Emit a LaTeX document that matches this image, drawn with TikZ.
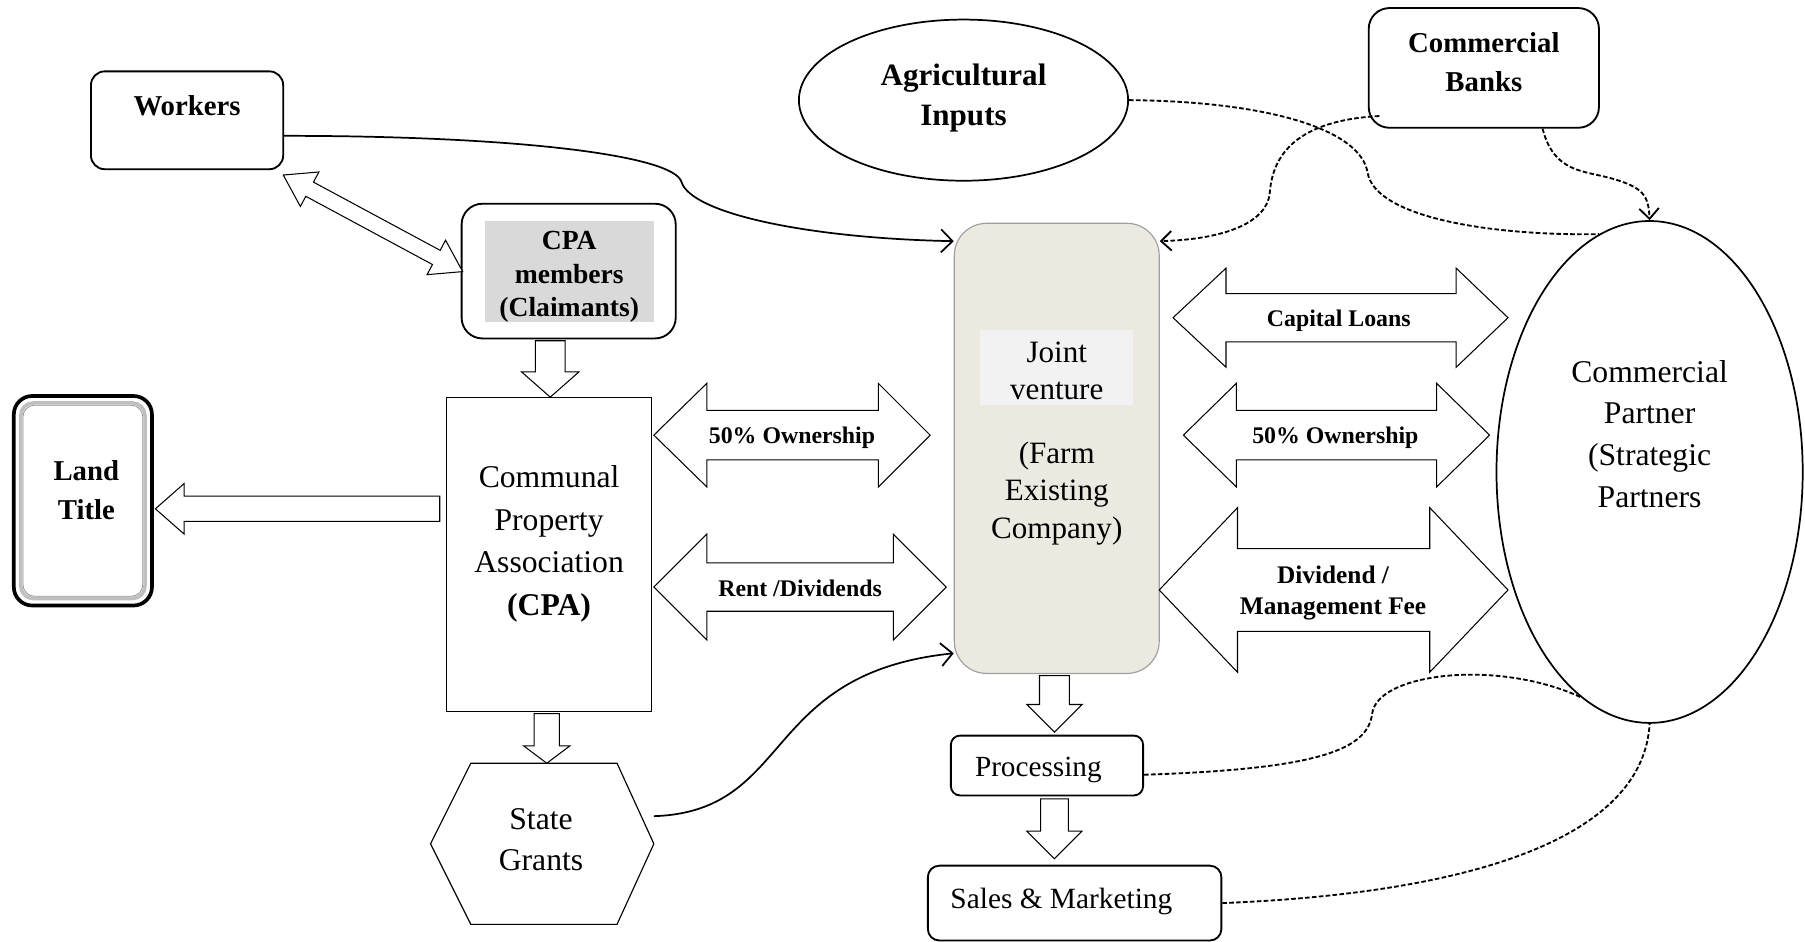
\documentclass[tikz,border=0pt]{standalone}
\usepackage{fontspec}
\setmainfont{Liberation Serif}
\usetikzlibrary{shapes.geometric,arrows.meta}

\definecolor{jvfill}{HTML}{ECEAE0}
\definecolor{jvlabel}{HTML}{F2F2F2}
\definecolor{memberfill}{HTML}{D9D9D9}

% horizontal double block arrow:
% left tip x, right tip x, mid y, shaft half width, head half width, left head length, right head length
\newcommand{\hdblarrow}[7]{%
  \draw[blockarrow] (#1,#3) -- ({#1+#6},{#3-#5}) -- ({#1+#6},{#3-#4})
    -- ({#2-#7},{#3-#4}) -- ({#2-#7},{#3-#5}) -- (#2,#3)
    -- ({#2-#7},{#3+#5}) -- ({#2-#7},{#3+#4}) -- ({#1+#6},{#3+#4})
    -- ({#1+#6},{#3+#5}) -- cycle;}
% downward block arrow:
% mid x, shaft top y, head base y, tip y, shaft half width, head half width
\newcommand{\vdownarrow}[6]{%
  \draw[blockarrow] ({#1-#5},#2) -- ({#1+#5},#2) -- ({#1+#5},#3) -- ({#1+#6},#3)
    -- (#1,#4) -- ({#1-#6},#3) -- ({#1-#5},#3) -- cycle;}

\begin{document}
\begin{tikzpicture}[x=1pt,y=-1pt,
  rtext/.style={font=\fontsize{27.5}{37}\selectfont, align=center, inner sep=0pt},
  btext/.style={font=\fontsize{25}{34}\selectfont\bfseries, align=center, inner sep=0pt},
  albl/.style={font=\fontsize{20.7}{25}\selectfont\bfseries, align=center, inner sep=0pt},
  rbox/.style={draw, line width=1.6pt, rounded corners=#1, inner sep=0pt},
  rbox/.default=12pt,
  blockarrow/.style={draw, line width=0.9pt, fill=white, line join=miter},
  flow/.style={line width=1.5pt, -{Straight Barb[length=10pt,width=20pt]}},
  link/.style={line width=1.6pt, dash pattern=on 4pt off 2pt},
  linkarrow/.style={link, -{Straight Barb[length=9pt,width=17pt]}}]

\useasboundingbox (0,0) rectangle (1568,818);

% ---------- left column ----------
\node[rbox=12pt, minimum width=167pt, minimum height=85pt] (workers) at (162.5,104.5) {};
\node[btext] (workers-t) at (162.5,92) {Workers};

\node[rbox=18pt, minimum width=186pt, minimum height=117pt] (cpam) at (494,235.5) {};
\node[fill=memberfill, minimum width=147pt, minimum height=88pt, inner sep=0pt] (cpam-bg) at (494.5,236) {};
\node[btext, font=\fontsize{24}{29}\selectfont\bfseries] (cpam-t) at (494.5,240.5) {CPA\\members\\(Claimants)};

% land title with bevelled frame
\node[draw, line width=3.2pt, rounded corners=16pt, minimum width=120pt, minimum height=182pt, fill=white] (land) at (72,435) {};
\draw[gray!50, line width=3pt, rounded corners=11pt] (18,350) rectangle (126,520);
\draw[gray!85, line width=0.7pt, rounded corners=10pt] (20,352) rectangle (124,518);
\node[btext] (land-t) at (75,425.5) {Land\\Title};

\node[draw, line width=1pt, minimum width=178pt, minimum height=273pt, inner sep=0pt] (cpa) at (477,481.5) {};
\node[rtext] (cpa-t) at (477,472.5) {Communal\\Property\\Association\\\textbf{(CPA)}};

% state grants hexagon
\draw[line width=1pt] (374,733) -- (409,663) -- (536,663) -- (568,733) -- (536,803) -- (409,803) -- cycle;
\node[rtext, font=\fontsize{27.5}{36}\selectfont] (grants) at (470,729.5) {State\\Grants};
\coordinate (grants-out) at (568,709);

% ---------- centre ----------
\node[draw=gray!75, line width=1pt, fill=jvfill, rounded corners=28pt, minimum width=178pt, minimum height=391pt, inner sep=0pt] (jv) at (918,389.5) {};
\node[fill=jvlabel, minimum width=133pt, minimum height=65pt, inner sep=0pt] (jv-lbl) at (917.5,319.5) {};
\node[rtext, font=\fontsize{27}{32}\selectfont] (jv-t1) at (918,322) {Joint\\venture};
\node[rtext, font=\fontsize{27}{32.5}\selectfont] (jv-t2) at (918,428.5) {(Farm\\Existing\\Company)};

\node[rbox=8pt, minimum width=167pt, minimum height=52pt] (proc) at (909.5,665) {};
\node[rtext, font=\fontsize{25.4}{30}\selectfont] (proc-t) at (902,668.5) {Processing};

\node[rbox=10pt, minimum width=255pt, minimum height=65pt] (sales) at (933.5,784.5) {};
\node[rtext, font=\fontsize{25.5}{30}\selectfont] (sales-t) at (922,783.5) {Sales \& Marketing};

% ---------- top and right ----------
\node[draw, ellipse, line width=1.5pt, minimum width=286pt, minimum height=140pt, inner sep=0pt] (agri) at (837,87) {};
\node[btext, font=\fontsize{27}{35}\selectfont\bfseries] (agri-t) at (837,85) {Agricultural\\Inputs};

\node[rbox=18pt, minimum width=200pt, minimum height=104pt] (banks) at (1289,59) {};
\node[btext] (banks-t) at (1289,54) {Commercial\\Banks};

\node[draw, ellipse, line width=1.5pt, minimum width=266pt, minimum height=436pt, inner sep=0pt] (partner) at (1433,410) {};
\node[rtext, font=\fontsize{27.5}{36.3}\selectfont] (partner-t) at (1433,377) {Commercial\\Partner\\(Strategic\\Partners};

% ---------- block arrows ----------
\begin{scope}[shift={(324,194)}, rotate=-28.3]
  \hdblarrow{-88.5}{88.5}{0}{7}{17}{26}{26}
\end{scope}
\vdownarrow{478}{296}{323}{345}{13}{25}
\vdownarrow{475}{620}{648}{663}{11}{20}
\vdownarrow{916}{587}{612}{636}{13}{24}
\vdownarrow{916}{694}{722}{746}{12}{24}
\draw[blockarrow] (382,431) -- (160,431) -- (160,420) -- (135,442) -- (160,464) -- (160,453) -- (382,453) -- cycle;

\hdblarrow{568}{808}{378}{21.5}{45}{46}{45}
\node[albl] (own-l) at (688,380) {50\% Ownership};
\hdblarrow{568}{822}{510}{21}{46}{46}{46}
\node[albl] (rent) at (695,511) {Rent /Dividends};

\hdblarrow{1019}{1310}{276}{21}{43}{46}{45}
\node[albl] (loans) at (1163,279) {Capital Loans};
\hdblarrow{1028}{1294}{378}{21.5}{45}{46}{46}
\node[albl] (own-r) at (1160,380) {50\% Ownership};
\hdblarrow{1007}{1310}{512.5}{36}{71.5}{68}{68}
\node[albl, font=\fontsize{22}{27}\selectfont\bfseries] (divfee) at (1158,515.5) {Dividend /\\Management Fee};

% ---------- connectors ----------
\draw[flow] ([yshift=-13.5pt]workers.east) .. controls (450,118) and (585,135) .. (592,158)
  .. controls (600,185) and (700,207) .. ([yshift=-16pt]jv.north west);
\draw[flow] (grants-out) .. controls (690,705) and (660,585) .. ([yshift=18pt]jv.south west);

\draw[link] (agri.east) .. controls (1100,88) and (1182,112) .. (1188,150)
  .. controls (1195,190) and (1300,205) .. (partner.102);
\draw[linkarrow] ([xshift=10pt,yshift=11pt]banks.south west) .. controls (1120,105) and (1105,140) .. (1103,168)
  .. controls (1100,195) and (1060,208) .. ([yshift=-16pt]jv.north east);
\draw[linkarrow] ([xshift=51pt]banks.south) .. controls (1350,150) and (1375,148) .. (1400,155)
  .. controls (1428,163) and (1432,170) .. (partner.north);
\draw[link] ([yshift=-8pt]proc.east) .. controls (1150,668) and (1188,650) .. (1192,620)
  .. controls (1196,585) and (1300,572) .. (partner.253);
\draw[link] (sales.east) .. controls (1300,775) and (1428,720) .. (partner.south);

\end{tikzpicture}
\end{document}
